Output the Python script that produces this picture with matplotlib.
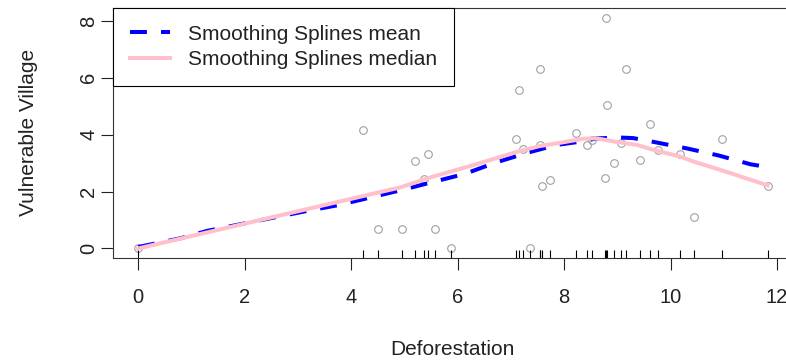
import numpy as np
import matplotlib.pyplot as plt

plt.rcParams['font.family'] = ['Liberation Sans', 'DejaVu Sans']

# observed villages
defor = [0.0, 4.22, 4.50, 4.95, 5.20, 5.37, 5.44, 5.57, 5.88,
         7.10, 7.16, 7.23, 7.36, 7.54, 7.54, 7.58, 7.73,
         8.23, 8.43, 8.53, 8.76, 8.79, 8.81, 8.94, 9.06, 9.16,
         9.43, 9.61, 9.77, 10.17, 10.44, 10.96, 11.82]
vuln = [0.0, 4.16, 0.69, 0.69, 3.09, 2.45, 3.32, 0.69, 0.0,
        3.84, 5.56, 3.50, 0.0, 6.31, 3.65, 2.20, 2.40,
        4.07, 3.65, 3.81, 2.48, 8.12, 5.04, 3.00, 3.72, 6.31,
        3.12, 4.39, 3.46, 3.33, 1.12, 3.84, 2.20]

# smoothing spline fits
mean_x = [0.0, 0.8, 1.3, 3.2, 3.75, 4.36, 4.96, 5.52, 6.13, 6.73, 7.32,
          7.86, 8.4, 8.6, 9.05, 9.3, 9.67, 10.3, 10.9, 11.5, 11.82]
mean_y = [0.05, 0.36, 0.62, 1.33, 1.52, 1.79, 2.06, 2.33, 2.62, 3.03, 3.37,
          3.64, 3.78, 3.87, 3.90, 3.88, 3.75, 3.52, 3.27, 2.96, 2.86]
med_x = [0.0, 3.44, 4.93, 5.49, 6.31, 7.12, 7.54, 7.94, 8.37, 8.6, 8.74,
         8.94, 9.37, 9.69, 10.18, 10.44, 10.94, 11.82]
med_y = [0.0, 1.50, 2.15, 2.50, 2.94, 3.40, 3.60, 3.72, 3.86, 3.87, 3.83,
         3.76, 3.64, 3.46, 3.23, 3.05, 2.76, 2.22]

fig = plt.figure(figsize=(7.86, 3.61), dpi=100)
ax = fig.add_axes([113 / 786, 1 - 257.7 / 361, (791.5 - 113) / 786, (257.7 - 8) / 361])

ax.plot(defor, vuln, 'o', ms=5.5, mfc='none', mec='#a0a0a0', mew=0.8)
ax.vlines(defor, 0, 0.03, color='black', lw=0.8, transform=ax.get_xaxis_transform())
ax.plot(mean_x, mean_y, color='blue', lw=2.9, ls=(0, (4.2, 3.5)),
        label='Smoothing Splines mean')
ax.plot(med_x, med_y, color='pink', lw=2.9, label='Smoothing Splines median')

ax.set_xlim(-0.472, 12.27)
ax.set_ylim(-0.325, 8.455)
ax.set_xticks([0, 2, 4, 6, 8, 10, 12])
ax.set_yticks([0, 2, 4, 6, 8])
ax.tick_params(direction='out', length=8.6, width=0.8, labelsize=14.5, colors='#222222')
ax.tick_params(axis='x', pad=13)
ax.tick_params(axis='y', pad=2)
for lab in ax.get_yticklabels():
    lab.set_rotation(90)
    lab.set_va('center')
for sp in ax.spines.values():
    sp.set_linewidth(0.8)
    sp.set_color('#333333')

ax.set_xlabel('Deforestation', fontsize=15, color='#222222', labelpad=24)
ax.set_ylabel('Vulnerable Village', fontsize=15, color='#222222', labelpad=30)

leg = ax.legend(loc='upper left', bbox_to_anchor=(0, 1), borderaxespad=0,
                fancybox=False, framealpha=1, edgecolor='black', fontsize=15,
                handlelength=1.92, handletextpad=0.88, borderpad=0.8,
                labelspacing=0.3)
leg.get_frame().set_linewidth(0.8)
for t in leg.get_texts():
    t.set_color('#222222')

fig.savefig('out.png', dpi=100)
